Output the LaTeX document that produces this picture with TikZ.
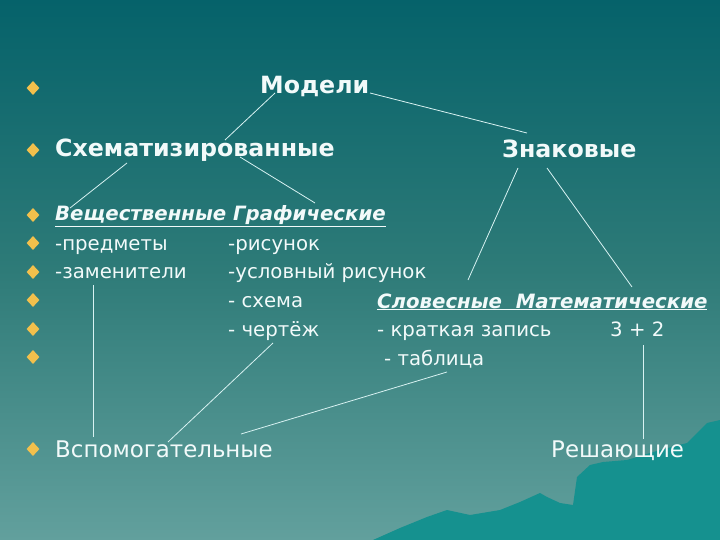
\documentclass[tikz,border=0pt]{standalone}
\usepackage{fontspec}
\setmainfont{DejaVu Sans}
\usetikzlibrary{shapes.geometric}
\definecolor{bgtop}{HTML}{05626A}
\definecolor{bgmid}{HTML}{2E7B78}
\definecolor{bgbot}{HTML}{62A09D}
\definecolor{hill}{HTML}{15918F}
\definecolor{txtc}{HTML}{F2FAFA}
\definecolor{lnc}{HTML}{D8F2F2}
\definecolor{gold}{HTML}{F2C04C}
\begin{document}
\begin{tikzpicture}[x=1bp,y=-1bp,
  bul/.style={diamond,fill=gold,draw=none,inner sep=0pt,minimum width=13bp,minimum height=14bp},
  plain/.style={anchor=base west,inner sep=0pt,text=txtc,font=\fontsize{19.8}{22}\selectfont},
  head/.style={anchor=base west,inner sep=0pt,text=txtc,font=\fontsize{23.8}{26}\selectfont\bfseries},
  sub/.style={anchor=base west,inner sep=0pt,text=txtc,font=\fontsize{19.8}{24}\selectfont\bfseries\itshape},
  big/.style={anchor=base west,inner sep=0pt,text=txtc,font=\fontsize{23}{26}\selectfont},
  conn/.style={draw=lnc,line width=0.8bp}
]
\useasboundingbox (0,0) rectangle (720,540);
\shade[top color=bgtop,bottom color=bgbot,middle color=bgmid] (0,0) rectangle (720,540);
% hill
\fill[hill] (373,540) -- (400,528) -- (427,517) -- (447,510) -- (470,515) -- (500,510)
  -- (520,502) -- (540,493) -- (547,497) -- (560,503) -- (573,505) -- (577,477)
  -- (590,465) -- (603,462) -- (627,460) -- (660,450) -- (687,443) -- (707,423)
  -- (720,420) -- (720,540) -- cycle;
% bullets
\foreach \yy [count=\i] in {88,150,215,243,272,300,329,357,449}
  \node[bul] (b\i) at (33,\yy) {};
% texts
\node[head] (model) at (260,94) {Модели};
\node[head] (schem) at (55,157) {Схематизированные};
\node[head] (sign) at (502,158) {Знаковые};
\node[sub] (vesch) at (55,221) {\underline{Вещественные Графические}};
\node[plain] (pred) at (55,251) {-предметы};
\node[plain] (ris) at (228,251) {-рисунок};
\node[plain] (zam) at (55,279) {-заменители};
\node[plain] (usl) at (228,279) {-условный рисунок};
\node[plain] (shema) at (228,307) {- схема};
\node[sub] (slov) at (377,308) {\underline{Словесные\ \ Математические}};
\node[plain] (cher) at (228,336) {- чертёж};
\node[plain] (krat) at (377,336) {- краткая запись};
\node[plain] (sum) at (610,336) {3 + 2};
\node[plain] (tabl) at (384,365) {- таблица};
\node[big] (vspom) at (55,457) {Вспомогательные};
\node[big] (resh) at (551,457) {Решающие};
% connector ends
\coordinate (m1) at (275,93);  \coordinate (s1) at (225,140);
\coordinate (m2) at (370,93);  \coordinate (z1) at (527,133);
\coordinate (s2) at (127,163); \coordinate (v1) at (70,208);
\coordinate (s3) at (240,157); \coordinate (g1) at (315,203);
\coordinate (z2) at (518,168); \coordinate (sl1) at (468,280);
\coordinate (z3) at (547,168); \coordinate (mt1) at (632,287);
\coordinate (zm1) at (93,285); \coordinate (vs1) at (93,437);
\coordinate (ch1) at (273,343); \coordinate (vs2) at (168,442);
\coordinate (tb1) at (447,372); \coordinate (vs3) at (241,434);
\coordinate (sm1) at (643,345); \coordinate (rs1) at (643,439);
% connectors
\draw[conn] (m1) -- (s1);
\draw[conn] (m2) -- (z1);
\draw[conn] (s2) -- (v1);
\draw[conn] (s3) -- (g1);
\draw[conn] (z2) -- (sl1);
\draw[conn] (z3) -- (mt1);
\draw[conn] (zm1) -- (vs1);
\draw[conn] (ch1) -- (vs2);
\draw[conn] (tb1) -- (vs3);
\draw[conn] (sm1) -- (rs1);
\end{tikzpicture}
\end{document}
